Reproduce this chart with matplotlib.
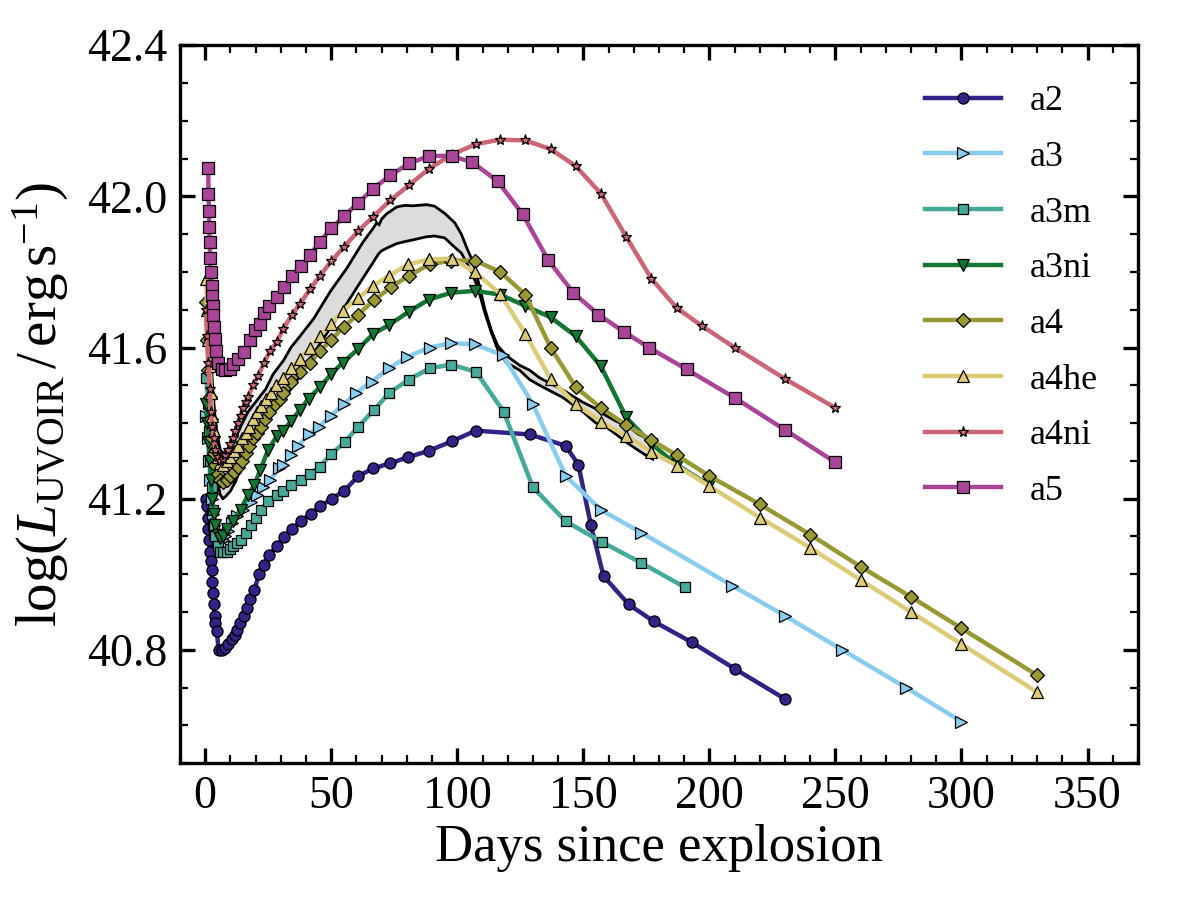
import matplotlib
matplotlib.use("Agg")
import matplotlib.pyplot as plt
from matplotlib.ticker import MultipleLocator

plt.rcParams['font.family'] = ['Liberation Serif', 'DejaVu Serif']
plt.rcParams['mathtext.fontset'] = 'custom'
plt.rcParams['mathtext.rm'] = 'Liberation Serif'
plt.rcParams['mathtext.it'] = 'Liberation Serif:italic'
plt.rcParams['mathtext.bf'] = 'Liberation Serif:bold'

# ---------------- data ----------------
a2_days = [0.4, 0.7, 1.0, 1.3, 1.6, 1.9, 2.2, 2.5, 2.8, 3.1, 3.4, 3.7, 4.0, 4.6, 5.3, 6.6, 7.9, 9.2,
           10.6, 11.9, 12.8, 13.9, 15.2, 16.5, 17.8, 19.4, 21.4, 23.4, 25.5, 28.4, 31.3, 34.3, 37.9,
           41.8, 45.7, 50.2, 55.0, 60.8, 66.6, 73.5, 80.6, 88.8, 97.9, 107.3, 128.7, 143, 148, 153,
           158, 168, 178, 193, 210, 230]
a2_lum = [41.20, 41.18, 41.15, 41.12, 41.09, 41.06, 41.035, 41.01, 40.98, 40.95, 40.92, 40.89, 40.87,
          40.85, 40.80, 40.80, 40.806, 40.815, 40.828, 40.84, 40.853, 40.87, 40.89, 40.91, 40.935,
          40.958, 41.00, 41.025, 41.052, 41.074, 41.098, 41.12, 41.14, 41.16, 41.18, 41.20, 41.22,
          41.26, 41.28, 41.294, 41.31, 41.327, 41.352, 41.38, 41.37, 41.34, 41.29, 41.13, 40.995,
          40.92, 40.875, 40.82, 40.75, 40.67]

a3_days = [0.5, 1.0, 1.5, 2.0, 2.5, 3.0, 3.5, 4.0, 5.0, 6.0, 7.0, 8.0, 9.0, 10.5, 12.5, 15.0, 18.0,
           20.7, 23.0, 25.7, 29.4, 31.0, 34.0, 37.0, 41.0, 45.0, 50.0, 55.0, 60.0, 66.0, 73.0, 80.0,
           89.0, 97.6, 107, 118, 130, 143, 157, 173, 209, 230, 252.6, 278, 300]
a3_lum = [41.42, 41.36, 41.30, 41.25, 41.20, 41.16, 41.13, 41.11, 41.09, 41.085, 41.09, 41.10, 41.115,
          41.135, 41.155, 41.17, 41.19, 41.21, 41.23, 41.25, 41.28, 41.29, 41.315, 41.34, 41.37, 41.39,
          41.42, 41.45, 41.48, 41.51, 41.545, 41.575, 41.60, 41.612, 41.608, 41.58, 41.45, 41.26,
          41.17, 41.11, 40.97, 40.89, 40.80, 40.70, 40.61]

a3m_days = [0.5, 1.0, 1.5, 2.0, 2.5, 3.0, 3.5, 4.0, 5.0, 6.0, 7.0, 8.6, 10.0, 11.0, 12.5, 14.0, 16.0,
            18.0, 20.0, 22.0, 25.0, 28.4, 31.0, 34.0, 38.0, 41.6, 45.5, 50.0, 55.4, 60.6, 67.0, 73.0,
            80.8, 89.0, 97.6, 107.5, 118.4, 130, 143, 157.4, 173, 190.4]
a3m_lum = [41.52, 41.45, 41.38, 41.30, 41.23, 41.17, 41.13, 41.10, 41.075, 41.06, 41.058, 41.06, 41.068,
           41.075, 41.083, 41.09, 41.11, 41.13, 41.15, 41.17, 41.195, 41.21, 41.22, 41.235, 41.25,
           41.265, 41.285, 41.318, 41.35, 41.39, 41.435, 41.48, 41.515, 41.545, 41.555, 41.535, 41.43,
           41.23, 41.14, 41.085, 41.03, 40.965]

a3ni_days = [0.3, 0.8, 1.3, 1.8, 2.3, 2.8, 3.3, 4.0, 5.0, 6.0, 7.0, 8.6, 11.0, 14.0, 17.0, 19.4, 21.8,
             25.0, 28.4, 31.0, 34.0, 37.6, 41.0, 45.5, 50.0, 54.6, 60.5, 66.5, 73.0, 80.8, 88.7, 97.6,
             107, 117, 127, 137, 147, 157, 167, 177, 187, 200]
a3ni_lum = [41.45, 41.40, 41.35, 41.30, 41.25, 41.20, 41.16, 41.13, 41.105, 41.095, 41.10, 41.12, 41.14,
            41.17, 41.21, 41.235, 41.275, 41.33, 41.365, 41.38, 41.405, 41.435, 41.465, 41.495, 41.53,
            41.56, 41.595, 41.635, 41.66, 41.695, 41.727, 41.745, 41.75, 41.74, 41.71, 41.68, 41.63,
            41.55, 41.415, 41.345, 41.29, 41.235]

a4_days = [0.3, 0.8, 1.3, 1.8, 2.3, 2.8, 3.3, 4.0, 5.0, 6.0, 7.0, 8.5, 10.0, 11.5, 13.0, 14.5, 16.0,
           17.5, 19.0, 20.5, 22.0, 23.8, 25.5, 27.5, 29.5, 31.0, 34.0, 37.6, 41.6, 45.5, 50.0, 55.0,
           60.6, 67.0, 73.6, 80.8, 89.0, 97.6, 107, 117, 127, 137, 147, 157, 167, 177, 187, 200, 220,
           240, 260, 280, 300, 330]
a4_lum = [41.72, 41.62, 41.54, 41.47, 41.41, 41.36, 41.32, 41.29, 41.265, 41.25, 41.245, 41.25, 41.26,
          41.27, 41.285, 41.30, 41.32, 41.34, 41.36, 41.375, 41.39, 41.41, 41.43, 41.45, 41.465, 41.48,
          41.51, 41.535, 41.56, 41.59, 41.62, 41.655, 41.687, 41.725, 41.76, 41.79, 41.82, 41.83,
          41.83, 41.80, 41.74, 41.60, 41.495, 41.44, 41.395, 41.355, 41.315, 41.26, 41.185, 41.105,
          41.02, 40.94, 40.857, 40.733]

a4he_days = [0.3, 0.8, 1.3, 1.8, 2.3, 2.8, 3.3, 4.0, 5.0, 6.0, 7.0, 8.5, 10.0, 11.5, 13.0, 14.5, 16.0,
             17.5, 19.0, 20.5, 22.0, 24.0, 26.0, 28.0, 31.0, 34.0, 37.6, 41.6, 45.5, 50.0, 54.6, 60.6,
             66.5, 73.0, 80.4, 88.7, 97.7, 107, 117, 127, 137, 147, 157, 167, 177, 187, 200, 220, 240,
             260, 280, 300, 330]
a4he_lum = [41.78, 41.70, 41.62, 41.55, 41.48, 41.42, 41.38, 41.34, 41.31, 41.295, 41.29, 41.30, 41.31,
            41.325, 41.34, 41.36, 41.375, 41.39, 41.41, 41.43, 41.445, 41.465, 41.48, 41.50, 41.52,
            41.545, 41.57, 41.60, 41.63, 41.663, 41.697, 41.73, 41.763, 41.79, 41.82, 41.833, 41.835,
            41.80, 41.742, 41.636, 41.517, 41.45, 41.404, 41.366, 41.324, 41.287, 41.233, 41.15, 41.07,
            40.985, 40.90, 40.815, 40.688]

a4ni_days = [0.3, 0.8, 1.3, 1.8, 2.3, 2.8, 3.3, 4.0, 5.0, 6.0, 7.0, 8.0, 9.0, 10.0, 11.0, 12.0, 13.0,
             14.0, 15.0, 16.0, 17.0, 19.0, 21.0, 23.4, 25.7, 28.4, 31.0, 34.3, 37.6, 41.6, 45.5, 50.0,
             55.0, 60.6, 66.6, 73.5, 80.9, 88.8, 97.7, 107.3, 117, 127, 137, 147, 157, 167, 177, 187,
             197, 210, 230, 250]
a4ni_lum = [41.70, 41.63, 41.56, 41.49, 41.43, 41.39, 41.36, 41.33, 41.31, 41.30, 41.305, 41.315, 41.33,
            41.345, 41.36, 41.38, 41.40, 41.42, 41.44, 41.455, 41.47, 41.50, 41.525, 41.56, 41.59,
            41.615, 41.65, 41.685, 41.716, 41.754, 41.79, 41.828, 41.866, 41.907, 41.946, 41.99, 42.03,
            42.073, 42.11, 42.138, 42.15, 42.148, 42.125, 42.08, 42.007, 41.893, 41.782, 41.705, 41.657,
            41.60, 41.517, 41.44]

a5_days = [1.2, 1.3, 1.5, 1.6, 1.8, 2.0, 2.2, 2.5, 2.7, 2.9, 3.2, 3.5, 3.9, 4.3, 5.2, 6.5, 7.9, 9.9,
           11.2, 13.2, 15.2, 17.8, 19.8, 21.8, 23.5, 25.5, 28.4, 31.3, 34.3, 38.0, 41.6, 45.5, 50.0,
           55.0, 60.7, 66.6, 73.5, 80.9, 88.8, 97.7, 106, 116, 126, 136, 146, 156, 166, 176, 191, 210,
           230, 250]
a5_lum = [42.075, 42.007, 41.96, 41.92, 41.88, 41.837, 41.80, 41.764, 41.736, 41.709, 41.685, 41.654,
          41.623, 41.592, 41.56, 41.544, 41.54, 41.544, 41.557, 41.57, 41.588, 41.619, 41.645, 41.663,
          41.69, 41.71, 41.733, 41.76, 41.79, 41.815, 41.846, 41.88, 41.915, 41.947, 41.983, 42.02,
          42.056, 42.087, 42.107, 42.107, 42.09, 42.04, 41.952, 41.832, 41.745, 41.687, 41.642, 41.60,
          41.542, 41.467, 41.382, 41.296]

band_days = [2, 2.5, 3, 4, 5, 6, 7, 8, 10, 12, 14, 17, 20.5, 24, 27, 31, 34, 37.6, 43, 49.5, 56, 62.7,
             66.6, 68, 69, 70, 72, 76, 79, 82.5, 87.8, 91, 95, 99, 101.6, 104, 106, 108.5, 111, 113.5,
             116, 119.4, 124.7, 128.7, 132.6, 141.8, 149.8, 155, 159, 163, 168, 172, 176, 177.5]
band_upper = [41.62, 41.55, 41.49, 41.41, 41.36, 41.33, 41.32, 41.325, 41.34, 41.36, 41.39, 41.43, 41.46,
              41.49, 41.53, 41.565, 41.60, 41.63, 41.676, 41.747, 41.808, 41.88, 41.915, 41.93, 41.925,
              41.94, 41.954, 41.972, 41.976, 41.975, 41.978, 41.974, 41.955, 41.93, 41.90, 41.86, 41.83,
              41.77, 41.70, 41.645, 41.605, 41.579, 41.553, 41.54, 41.52, 41.488, 41.455, 41.438, 41.42,
              41.405, 41.39, 41.37, 41.358, 41.354]
band_lower = [41.50, 41.44, 41.38, 41.30, 41.24, 41.21, 41.20, 41.205, 41.22, 41.245, 41.28, 41.32, 41.36,
              41.40, 41.43, 41.46, 41.49, 41.525, 41.585, 41.65, 41.715, 41.785, 41.825, 41.84, 41.85,
              41.856, 41.863, 41.875, 41.88, 41.885, 41.893, 41.895, 41.89, 41.865, 41.85, 41.82, 41.795,
              41.75, 41.69, 41.64, 41.595, 41.56, 41.54, 41.515, 41.50, 41.468, 41.43, 41.40, 41.39,
              41.37, 41.345, 41.327, 41.31, 41.305]

series = [
    ("a2", a2_days, a2_lum, "#332288", "o", 8.0),
    ("a3", a3_days, a3_lum, "#88CCEE", ">", 8.0),
    ("a3m", a3m_days, a3m_lum, "#44AA99", "s", 7.5),
    ("a3ni", a3ni_days, a3ni_lum, "#117733", "v", 8.0),
    ("a4", a4_days, a4_lum, "#999933", "D", 7.2),
    ("a4he", a4he_days, a4he_lum, "#DDCC77", "^", 8.0),
    ("a4ni", a4ni_days, a4ni_lum, "#CC6677", "*", 8.0),
    ("a5", a5_days, a5_lum, "#AA4499", "s", 8.2),
]

# ---------------- figure ----------------
fig = plt.figure(figsize=(12, 9), dpi=100)
ax = fig.add_axes([0.15, 0.152, 0.7983, 0.7978])

# shaded band (closed outline)
poly_x = list(band_days) + list(band_days[::-1])
poly_y = list(band_upper) + list(band_lower[::-1])
ax.fill(poly_x, poly_y, facecolor="#dcdcdc", edgecolor="black", linewidth=2.0, zorder=1.5)

for name, d, l, c, m, ms in series:
    ax.plot(d, l, color=c, lw=3.2, marker=m, ms=ms, mfc=c, mec="black", mew=0.9,
            label=name, zorder=2)

ax.set_xlim(-10, 370)
ax.set_ylim(40.5, 42.4)
ax.xaxis.set_major_locator(MultipleLocator(50))
ax.xaxis.set_minor_locator(MultipleLocator(10))
ax.yaxis.set_minor_locator(MultipleLocator(0.1))
ax.set_yticks([40.8, 41.2, 41.6, 42.0, 42.4])
ax.set_yticklabels(["40.8", "41.2", "41.6", "42.0", "42.4"])

ax.tick_params(which="both", direction="in", top=True, right=True)
ax.tick_params(which="major", length=11, width=2.4, labelsize=33, pad=9)
ax.tick_params(which="minor", length=5.5, width=1.6)
for sp in ax.spines.values():
    sp.set_linewidth(2.4)

ax.set_xlabel("Days since explosion", fontsize=38, labelpad=4)
ax.set_ylabel(r"$\log(L_{\rm UVOIR}\,/\,{\rm erg\,s^{-1}})$", fontsize=41, labelpad=12)

ax.legend(loc="upper right", frameon=False, fontsize=26, numpoints=1, handlelength=2.1,
          handletextpad=0.8, labelspacing=0.62, borderaxespad=0.7, borderpad=0.4)

fig.savefig("out.png", dpi=100)
